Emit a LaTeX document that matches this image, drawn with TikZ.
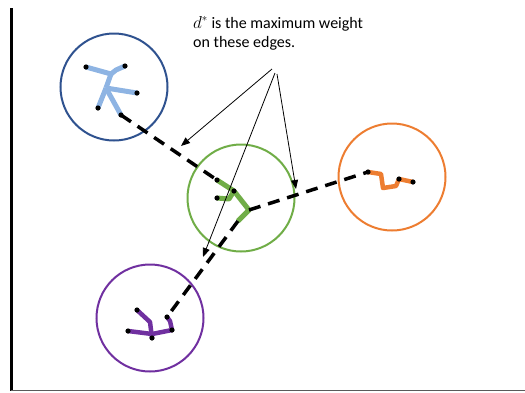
\documentclass[tikz,border=0pt]{standalone}
\usepackage{fontspec}
\setmainfont{Carlito}
\usepackage{tikz}
\usetikzlibrary{arrows.meta}
\definecolor{clblue}  {RGB}{47,82,143}
\definecolor{trblue}  {RGB}{142,180,227}
\definecolor{clgreen} {RGB}{112,173,71}
\definecolor{clorange}{RGB}{237,125,49}
\definecolor{clpurple}{RGB}{112,48,160}
\definecolor{axisgray}{RGB}{90,90,90}
\tikzset{
  cluster/.style ={draw=#1, circle, line width=2pt,
                   minimum size=107pt, inner sep=0pt},
  treeedge/.style={draw=#1, line width=5pt, line join=round},
  dashedge/.style={line width=3.5pt, dash pattern=on 12pt off 8pt},
  vtx/.style     ={fill=black},
  arr/.style     ={-{Triangle[length=9pt,width=7pt]}, line width=0.8pt},
}

\begin{document}
\begin{tikzpicture}[x=1pt, y=-1pt]
  \useasboundingbox (0,0) rectangle (525,392);

  % axes
  \draw[line width=3pt] (11.5,8) -- (11.5,391);
  \draw[axisgray, line width=1.5pt] (11,390.5) -- (525,390.5);

  % clusters
  \node[cluster=clblue]   (cblue)   at (114,87)  {};
  \node[cluster=clgreen]  (cgreen)  at (241,198) {};
  \node[cluster=clorange] (corange) at (392,177) {};
  \node[cluster=clpurple] (cpurple) at (150,318) {};

  % blue tree
  \coordinate (b1) at (86,67);   \coordinate (b2) at (111,74);
  \coordinate (b3) at (116,70);  \coordinate (b4) at (125,66);
  \coordinate (b5) at (106,88);  \coordinate (b6) at (137,93);
  \coordinate (b7) at (98,108);  \coordinate (b8) at (121,115);
  \draw[treeedge=trblue] (b1) -- (b2) -- (b3) -- (b4);
  \draw[treeedge=trblue] (b2) -- (b5);
  \draw[treeedge=trblue] (b5) -- (b6);
  \draw[treeedge=trblue] (b5) -- (b7);
  \draw[treeedge=trblue] (b5) -- (b8);

  % green tree
  \coordinate (g1) at (217,180); \coordinate (g2) at (234,191);
  \coordinate (g3) at (217,198); \coordinate (gh) at (229,199);
  \coordinate (g4) at (249,210); \coordinate (g5) at (238,221);
  \draw[treeedge=clgreen] (g1) -- (g2) -- (g4) -- (g5);
  \draw[treeedge=clgreen] (g3) -- (gh) -- (g2);

  % orange tree
  \coordinate (o1) at (368,172); \coordinate (o2) at (381,174);
  \coordinate (o3) at (383,188); \coordinate (o4) at (396,186);
  \coordinate (o5) at (399,179); \coordinate (o6) at (413,182);
  \draw[treeedge=clorange, line width=4.5pt]
       (o1) -- (o2) -- (o3) -- (o4) -- (o5) -- (o6);

  % purple tree
  \coordinate (p1) at (137,310); \coordinate (p2) at (150,322);
  \coordinate (p3) at (152,338); \coordinate (pj) at (152,334);
  \coordinate (p4) at (128,331); \coordinate (p5) at (172,330);
  \coordinate (p6) at (170,321); \coordinate (p7) at (167,317);
  \draw[treeedge=clpurple, line width=4.5pt] (p1) -- (p2) -- (p3);
  \draw[treeedge=clpurple, line width=4.5pt] (p4) -- (pj) -- (p5) -- (p6) -- (p7);

  % edges between clusters
  \draw[dashedge] (b8) -- (g1);
  \draw[dashedge] (g4) -- (o1);
  \draw[dashedge] (g5) -- (p7);

  % end points
  \foreach \v in {b1,b4,b6,b7,b8,g1,g2,g3,o1,o5,o6,p1,p3,p4,p5,p7}
    \fill[vtx] (\v) circle (2.6pt);

  % note
  \node[anchor=north west, align=left, inner sep=0pt,
        font=\fontsize{16}{19.5}\selectfont] (note) at (193,16)
        {$d^{*}$ is the maximum weight\\on these edges.};
  \coordinate (s1) at (272,69);  \coordinate (e1) at (181,146);
  \coordinate (s2) at (275,73);  \coordinate (e2) at (203,257);
  \coordinate (s3) at (277,74);  \coordinate (e3) at (296,189);
  \draw[arr] (s1) -- (e1);
  \draw[arr] (s2) -- (e2);
  \draw[arr] (s3) -- (e3);
\end{tikzpicture}
\end{document}
